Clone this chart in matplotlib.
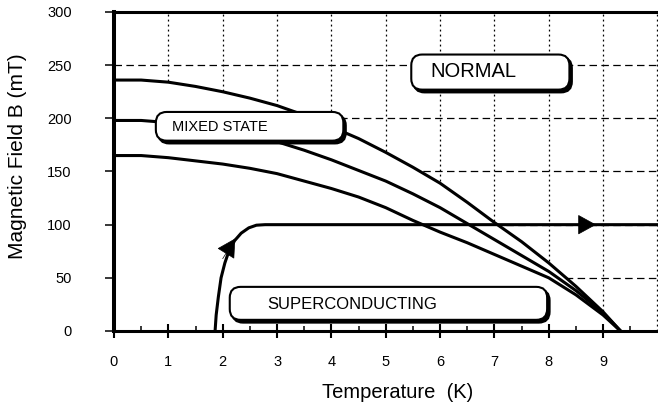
import matplotlib
matplotlib.use("Agg")
import matplotlib.pyplot as plt
from matplotlib.patches import FancyBboxPatch

plt.rcParams['font.family'] = ['Liberation Sans', 'DejaVu Sans']

# ---- data ----
temps = [0, 0.5, 1, 1.5, 2, 2.5, 3, 3.5, 4, 4.5, 5, 5.5, 6, 6.5, 7, 7.5, 8, 8.5, 9, 9.32]
b_upper = [236, 236, 234, 230, 225, 219, 212, 203, 192, 181, 168, 154, 139, 121, 102, 84, 64, 42, 18, 0]
b_middle = [198, 198, 196, 193, 189, 184, 178, 170, 161, 151, 141, 129, 116, 101, 86, 71, 56, 38, 17, 0]
b_lower = [165, 165, 163, 160, 157, 153, 148, 141, 134, 126, 116, 104, 93, 83, 72, 61, 50, 34, 15, 0]

path_t = [1.86, 1.88, 1.92, 1.97, 2.04, 2.12, 2.22, 2.34, 2.48, 2.62, 2.78, 10.05]
path_b = [0, 15, 32, 50, 64, 76, 85, 92, 97, 99.5, 100, 100]

arrow_heads = [((2.0, 68), (2.23, 87)), ((8.52, 100), (8.87, 100))]

labels = ["NORMAL", "MIXED STATE", "SUPERCONDUCTING"]
label_boxes = [(5.47, 227, 8.38, 260), (0.77, 179, 4.22, 206), (2.13, 10.5, 7.97, 41.5)]
label_text_pos = [(5.82, 244.5), (1.07, 191.5), (2.82, 24.5)]
label_sizes = [14.5, 10.5, 12]

xticks = list(range(0, 10))
yticks = [0, 50, 100, 150, 200, 250, 300]
x_minor = [0.5 + i for i in range(10)]

# ---- figure ----
fig = plt.figure(figsize=(6.58, 4.05), dpi=100)
ax = fig.add_axes([114 / 658, (405 - 331) / 405, 1 - 114 / 658, (331 - 12) / 405])
ax.set_xlim(0, 10.01)
ax.set_ylim(0, 300)
ax.set_axisbelow(False)

# grid (drawn manually so the white region can hide it)
for x in range(1, 11):
    ax.plot([x, x], [0, 300], color='black', lw=0.9, ls=(0, (1.5, 2.5)), zorder=0.3)
for y in [50, 100, 150, 200, 250]:
    ax.plot([0, 10.01], [y, y], color='black', lw=0.9, ls=(0, (6, 3.5)), zorder=0.3)

# white region under the upper critical field
ax.fill(temps + [9.32, 0], b_upper + [0, 0], facecolor='white', edgecolor='none', zorder=1.0)

lw = 2.2
ax.plot(temps, b_upper, color='black', lw=lw, zorder=3, solid_capstyle='round')
ax.plot(temps, b_middle, color='black', lw=lw, zorder=3, solid_capstyle='round')
ax.plot(temps, b_lower, color='black', lw=lw, zorder=3, solid_capstyle='round')
ax.plot(path_t, path_b, color='black', lw=lw, zorder=3, solid_capstyle='round')

for base, tip in arrow_heads:
    ax.annotate('', xy=tip, xytext=base,
                arrowprops=dict(arrowstyle='-|>,head_length=0.4,head_width=0.22',
                                mutation_scale=30, color='black', lw=0.5,
                                shrinkA=0, shrinkB=0),
                zorder=4)

# rounded label boxes with shadow
aspect = (54.33) / (1.0633)
for (x0, y0, x1, y1), txt, (tx, ty), fs in zip(label_boxes, labels, label_text_pos, label_sizes):
    shadow = FancyBboxPatch((x0 + 0.045, y0 - 2.6), x1 - x0, y1 - y0,
                            boxstyle='round,pad=0,rounding_size=0.2',
                            mutation_aspect=aspect, fc='black', ec='black', lw=1.5, zorder=5)
    ax.add_patch(shadow)
    box = FancyBboxPatch((x0, y0), x1 - x0, y1 - y0,
                         boxstyle='round,pad=0,rounding_size=0.2',
                         mutation_aspect=aspect, fc='white', ec='black', lw=1.5, zorder=6)
    ax.add_patch(box)
    ax.text(tx, ty, txt, fontsize=fs, ha='left', va='center', zorder=7)

# spines
ax.spines['right'].set_visible(False)
ax.spines['left'].set_linewidth(2.9)
ax.spines['top'].set_linewidth(2.2)
ax.spines['bottom'].set_linewidth(2.2)
for s in ax.spines.values():
    s.set_zorder(3.5)

ax.set_xticks(xticks)
ax.set_xticks(x_minor, minor=True)
ax.set_yticks(yticks)
ax.tick_params(axis='y', direction='out', length=6.5, width=1.1, pad=24, labelsize=10.5)
ax.tick_params(axis='x', which='major', direction='inout', length=10, width=1.5, pad=12, labelsize=10.5)
ax.tick_params(axis='x', which='minor', direction='in', length=3.5, width=1.1)

fig.text(398 / 658, 1 - 392 / 405, "Temperature  (K)", fontsize=14.5, ha='center', va='center')
fig.text(18 / 658, 1 - 156 / 405, "Magnetic Field B (mT)", fontsize=15, ha='center', va='center', rotation=90)

fig.savefig("out.png", dpi=100)
